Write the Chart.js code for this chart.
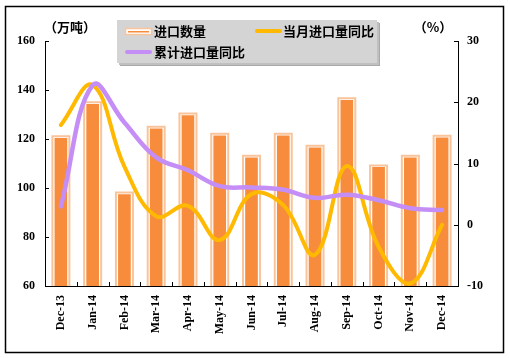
<!DOCTYPE html>
<html>
<head>
<meta charset="utf-8">
<script src="https://cdn.jsdelivr.net/npm/chart.js@4/dist/chart.umd.min.js"></script>
<style>
html,body{margin:0;padding:0;background:#fff;}
#wrap{position:relative;width:510px;height:358px;}
</style>
</head>
<body>
<div id="wrap"><canvas id="c" width="510" height="358"></canvas></div>
<script>
const categories = ["Dec-13","Jan-14","Feb-14","Mar-14","Apr-14","May-14","Jun-14","Jul-14","Aug-14","Sep-14","Oct-14","Nov-14","Dec-14"];
const importVolume = [120.3, 134.2, 97.3, 124.2, 129.6, 121.3, 112.3, 121.3, 116.4, 135.8, 108.4, 112.3, 120.5];
const monthlyYoY = [16.3, 22.8, 9.5, 1.4, 3.1, -2.5, 5.0, 3.2, -4.9, 9.6, -3.6, -9.6, 0.0];
const cumulativeYoY = [3.0, 22.8, 16.7, 11.0, 8.9, 6.3, 6.1, 5.7, 4.4, 4.9, 4.0, 2.7, 2.4];
const leftTicks = [60, 80, 100, 120, 140, 160];
const rightTicks = [-10, 0, 10, 20, 30];
const seriesNames = ["进口数量", "当月进口量同比", "累计进口量同比"];
const unitLeft = "（万吨）";
const unitRight = "（%）";

const ORANGE = "#F68C3C";
const ORANGE_LIGHT = "#F9C49A";
const YELLOW = "#FFB900";
const PURPLE = "#C58EF6";
const NONE = "rgba(0,0,0,0)";
const numFont = {family: "'Liberation Serif', 'DejaVu Serif', serif", size: 12, weight: "bold"};
const cjkFont = "bold 13px 'Noto Sans CJK SC', sans-serif";

const decorPlugin = {
  id: "decor",
  afterDatasetDraw(chart, args) {
    if (args.index !== 0) return;
    const ctx = chart.ctx;
    const meta = chart.getDatasetMeta(0);
    const a = chart.chartArea;
    ctx.save();
    ctx.strokeStyle = ORANGE_LIGHT;
    ctx.lineWidth = 2;
    meta.data.forEach(el => {
      const p = el.getProps(["x", "y", "width"], true);
      const l = p.x - p.width / 2 - 2.5, r = p.x + p.width / 2 + 2.5;
      const t = p.y - 2, b = a.bottom;
      ctx.beginPath();
      ctx.moveTo(l, b); ctx.lineTo(l, t); ctx.lineTo(r, t); ctx.lineTo(r, b);
      ctx.stroke();
    });
    ctx.restore();
  },
  afterDraw(chart) {
    const ctx = chart.ctx;
    const a = chart.chartArea;
    ctx.save();
    ctx.strokeStyle = "#000";
    ctx.lineWidth = 1;
    const yl = chart.scales.y, yr = chart.scales.y1;
    leftTicks.forEach(v => {
      const py = Math.round(yl.getPixelForValue(v)) + 0.5;
      ctx.beginPath(); ctx.moveTo(a.left, py); ctx.lineTo(a.left + 4, py); ctx.stroke();
    });
    rightTicks.forEach(v => {
      const py = Math.round(yr.getPixelForValue(v)) + 0.5;
      ctx.beginPath(); ctx.moveTo(a.right - 4, py); ctx.lineTo(a.right, py); ctx.stroke();
    });
    const n = categories.length;
    const step = (a.right - a.left) / n;
    for (let i = 0; i <= n; i++) {
      const px = Math.round(a.left + i * step) + 0.5;
      ctx.beginPath(); ctx.moveTo(px, a.bottom - 4); ctx.lineTo(px, a.bottom); ctx.stroke();
    }
    ctx.fillStyle = "#000";
    ctx.font = cjkFont;
    ctx.textBaseline = "middle";
    ctx.textAlign = "center";
    ctx.fillText(unitLeft, 70, 27);
    ctx.fillText(unitRight, 433, 27);
    const lx = 117, ly = 20, lw = 260, lh = 43;
    ctx.fillStyle = "#A8A8A8";
    ctx.fillRect(lx + 3, ly + 3, lw, lh);
    ctx.fillStyle = "#C0C0C0";
    ctx.fillRect(lx + 2, ly + 2, lw, lh);
    ctx.fillStyle = "#D4D4D4";
    ctx.fillRect(lx, ly, lw, lh);
    ctx.fillStyle = "#fff";
    ctx.fillRect(125, 28, 27, 7);
    ctx.strokeStyle = ORANGE_LIGHT; ctx.lineWidth = 1.5;
    ctx.strokeRect(125.5, 28.5, 26, 6);
    ctx.fillStyle = ORANGE;
    ctx.fillRect(128, 31, 21, 1.5);
    ctx.strokeStyle = YELLOW; ctx.lineWidth = 4; ctx.lineCap = "round";
    ctx.beginPath(); ctx.moveTo(257, 31); ctx.lineTo(280, 31); ctx.stroke();
    ctx.strokeStyle = PURPLE;
    ctx.beginPath(); ctx.moveTo(127, 52); ctx.lineTo(150, 52); ctx.stroke();
    ctx.fillStyle = "#000";
    ctx.textAlign = "left";
    ctx.fillText(seriesNames[0], 154, 31);
    ctx.fillText(seriesNames[1], 283, 31);
    ctx.fillText(seriesNames[2], 154, 52);
    ctx.strokeStyle = "#000"; ctx.lineWidth = 1.5; ctx.lineCap = "butt";
    ctx.strokeRect(5.5, 6.5, 498, 346);
    ctx.restore();
  }
};

new Chart(document.getElementById("c"), {
  type: "bar",
  data: {
    labels: categories,
    datasets: [
      {
        type: "bar", label: seriesNames[0], data: importVolume, yAxisID: "y",
        backgroundColor: ORANGE, borderWidth: 0, barThickness: 12, order: 3
      },
      {
        type: "line", label: seriesNames[1], data: monthlyYoY, yAxisID: "y1",
        borderColor: YELLOW, borderWidth: 4, pointRadius: 0, tension: 0.4, fill: false, order: 2,
        borderCapStyle: "round"
      },
      {
        type: "line", label: seriesNames[2], data: cumulativeYoY, yAxisID: "y1",
        borderColor: PURPLE, borderWidth: 4.5, pointRadius: 0, tension: 0.4, fill: false, order: 1,
        borderCapStyle: "round"
      }
    ]
  },
  options: {
    responsive: false,
    animation: false,
    devicePixelRatio: 1,
    layout: {padding: {top: 41, left: 0, right: 0, bottom: 0}},
    plugins: {legend: {display: false}, tooltip: {enabled: false}},
    scales: {
      x: {
        grid: {display: false, drawTicks: false, drawOnChartArea: false, color: NONE, tickColor: NONE},
        border: {display: true, color: "#000", width: 1},
        ticks: {color: "#000", font: {family: "'Liberation Serif', serif", size: 12, weight: "bold"}, maxRotation: 90, minRotation: 90, padding: 9, autoSkip: false},
        afterFit(s) { s.height = 72; }
      },
      y: {
        position: "left", min: 60, max: 160,
        afterBuildTicks(s) { s.ticks = leftTicks.map(v => ({value: v})); },
        grid: {display: false, drawTicks: false, color: NONE, tickColor: NONE},
        border: {display: true, color: "#000", width: 1},
        ticks: {color: "#000", font: numFont, padding: 10},
        afterFit(s) { s.width = 45; }
      },
      y1: {
        position: "right", min: -10, max: 30,
        afterBuildTicks(s) { s.ticks = rightTicks.map(v => ({value: v})); },
        grid: {display: false, drawTicks: false, color: NONE, tickColor: NONE},
        border: {display: true, color: "#000", width: 1},
        ticks: {color: "#000", font: numFont, padding: 9},
        afterFit(s) { s.width = 52; }
      }
    }
  },
  plugins: [decorPlugin]
});
</script>
</body>
</html>
